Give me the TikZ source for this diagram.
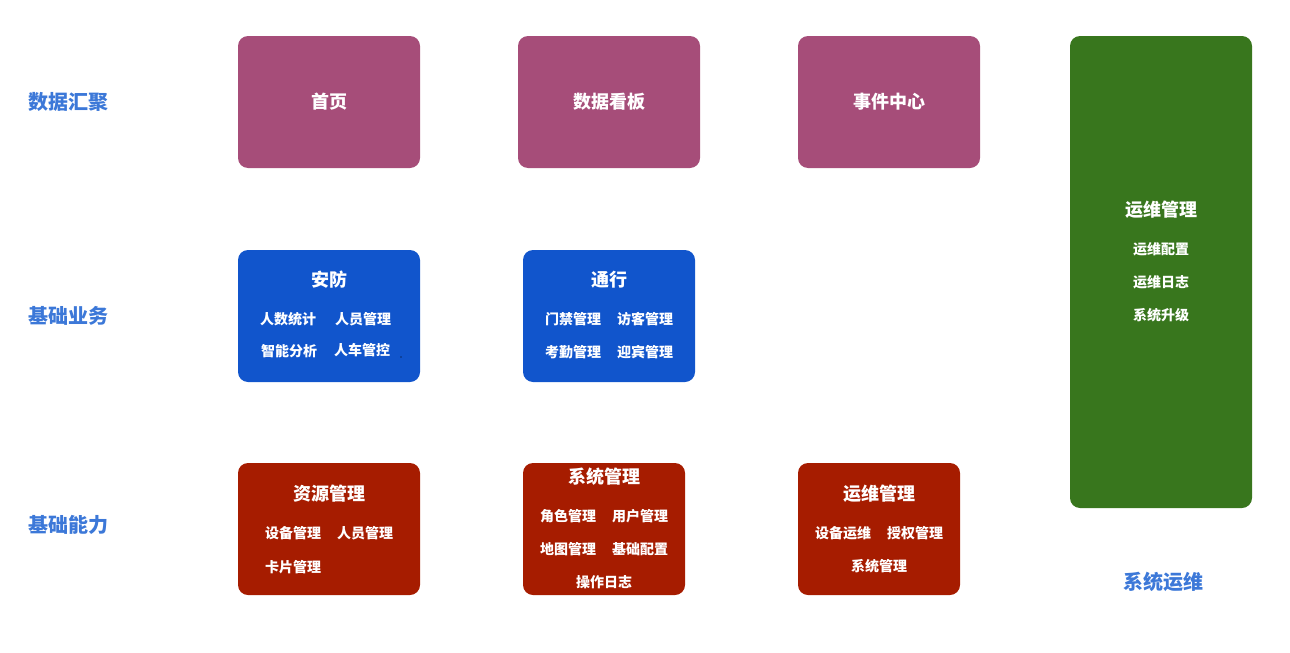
\documentclass[tikz,border=0pt]{standalone}
\usepackage{fontspec}
\usepackage{xcolor}
\newfontfamily\cjk{Noto Sans CJK SC}
\definecolor{hubpink}{HTML}{A64D79}
\definecolor{bizblue}{HTML}{1155CC}
\definecolor{capred}{HTML}{A61C00}
\definecolor{opsgreen}{HTML}{38761D}
\definecolor{layerblue}{HTML}{3C78D8}

\begin{document}
\begin{tikzpicture}[x=0.5pt,y=-0.5pt,
	tile/.style={rounded corners=5pt, inner sep=0pt},
	layer/.style={text=layerblue, font=\cjk\bfseries\fontsize{10pt}{12pt}\selectfont},
	head/.style={text=white, font=\cjk\bfseries\fontsize{9pt}{11pt}\selectfont},
	item/.style={text=white, font=\cjk\bfseries\fontsize{7pt}{8pt}\selectfont}]
		\useasboundingbox (0,0) rectangle (1290,653);

		%Layer labels
		\node[layer] at (68,102) (l1) {数据汇聚};
		\node[layer] at (68,316) (l2) {基础业务};
		\node[layer] at (68,525) (l3) {基础能力};
		\node[layer] at (1163,582) (l4) {系统运维};

		% Data hub
		\fill[hubpink, tile] (238,36) rectangle (420,168);
		\node[head] at (329,102) (home) {首页};
		\fill[hubpink, tile] (518,36) rectangle (700,168);
		\node[head] at (609,102) (board) {数据看板};
		\fill[hubpink, tile] (798,36) rectangle (980,168);
		\node[head] at (889,102) (event) {事件中心};

		% Operations column
		\fill[opsgreen, tile] (1070,36) rectangle (1252,508);
		\node[head] at (1161,210) (ops) {运维管理};
		\node[item] at (1161,249) (ops1) {运维配置};
		\node[item] at (1161,282) (ops2) {运维日志};
		\node[item] at (1161,315) (ops3) {系统升级};

		% Business
		\fill[bizblue, tile] (238,250) rectangle (420,382);
		\node[head] at (329,280) (sec) {安防};
		\node[item] at (288,319) (sec1) {人数统计};
		\node[item] at (363,319) (sec2) {人员管理};
		\node[item] at (289,351) (sec3) {智能分析};
		\node[item] at (362,350) (sec4) {人车管控};
		\fill[black] (401,357) circle (0.7);
		\fill[bizblue, tile] (523,250) rectangle (695,382);
		\node[head] at (609,280) (pass) {通行};
		\node[item] at (573,319) (pass1) {门禁管理};
		\node[item] at (645,319) (pass2) {访客管理};
		\node[item] at (573,352) (pass3) {考勤管理};
		\node[item] at (645,352) (pass4) {迎宾管理};

		% Capability
		\fill[capred, tile] (238,463) rectangle (420,595);
		\node[head] at (329,494) (res) {资源管理};
		\node[item] at (293,533) (res1) {设备管理};
		\node[item] at (365,533) (res2) {人员管理};
		\node[item] at (293,567) (res3) {卡片管理};
		\fill[capred, tile] (523,463) rectangle (685,595);
		\node[head] at (604,477) (sys) {系统管理};
		\node[item] at (568,516) (sys1) {角色管理};
		\node[item] at (640,516) (sys2) {用户管理};
		\node[item] at (568,549) (sys3) {地图管理};
		\node[item] at (640,549) (sys4) {基础配置};
		\node[item] at (604,582) (sys5) {操作日志};
		\fill[capred, tile] (798,463) rectangle (960,595);
		\node[head] at (879,494) (mnt) {运维管理};
		\node[item] at (843,533) (mnt1) {设备运维};
		\node[item] at (915,533) (mnt2) {授权管理};
		\node[item] at (879,566) (mnt3) {系统管理};
	\end{tikzpicture}
\end{document}
